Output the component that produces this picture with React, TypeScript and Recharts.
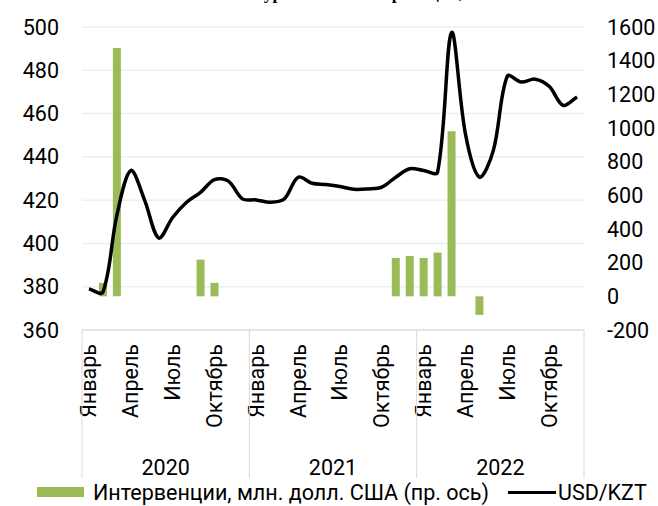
import React from 'react';
import { ComposedChart, Bar, Line, XAxis, YAxis, CartesianGrid, Legend, Customized } from 'recharts';

const years = ['2020', '2021', '2022'];
const monthNames = ['Январь', 'Февраль', 'Март', 'Апрель', 'Май', 'Июнь', 'Июль', 'Август', 'Сентябрь', 'Октябрь', 'Ноябрь', 'Декабрь'];
const labeledMonths = ['Январь', 'Апрель', 'Июль', 'Октябрь'];

// USD/KZT, monthly (left axis)
const usdKzt = [
  379, 377.5, 413, 433.7, 419.8, 402.5, 412, 419, 423.6, 429.5, 428.8, 420.6,
  420.1, 419, 420.5, 430.6, 427.8, 427.2, 426.3, 425, 425.2, 426, 430.6, 434.5,
  433.7, 432.9, 497.5, 450.5, 430.6, 443, 477.3, 474.6, 475.9, 472.6, 463.8, 467.7,
];

// Interventions, mln USD (right axis)
const interventions = [
  null, 80, 1475, null, null, null, null, null, 218, 80, null, null,
  null, null, null, null, null, null, null, null, null, null, 228, 240,
  228, 260, 980, null, -110, null, null, null, null, null, null, null,
];

const leftTicks = [360, 380, 400, 420, 440, 460, 480, 500];
const rightTicks = [-200, 0, 200, 400, 600, 800, 1000, 1200, 1400, 1600];

const barName = 'Интервенции, млн. долл. США (пр. ось)';
const lineName = 'USD/KZT';
const titleText = 'Обменный курс тенге и интервенции, 2020-2022';

const data = years.flatMap((y, yi) =>
  monthNames.map((m, mi) => ({
    key: `${y}-${mi}`,
    year: y,
    month: m,
    usd: usdKzt[yi * 12 + mi],
    intv: interventions[yi * 12 + mi],
  }))
);

const FONT = 'Roboto, "Liberation Sans", sans-serif';
const FS = 21.5;
const W = 658;
const H = 506;
const PLOT_LEFT = 82;
const PLOT_RIGHT = 584;
const BAND = (PLOT_RIGHT - PLOT_LEFT) / data.length;
const SEP = '#d9d9d9';

// Smoothed line with chord-weighted tangents (limits overshoot next to big jumps)
const smoothCurve = (context: any) => {
  let pts: number[][] = [];
  return {
    areaStart() {},
    areaEnd() {},
    lineStart() {
      pts = [];
    },
    point(x: number, y: number) {
      pts.push([+x, +y]);
    },
    lineEnd() {
      const n = pts.length;
      if (!n) return;
      const dist = (a: number[], b: number[]) => Math.hypot(b[0] - a[0], b[1] - a[1]);
      const outC: number[][] = [];
      const inC: number[][] = [];
      for (let i = 0; i < n; i++) {
        const p0 = pts[Math.max(i - 1, 0)];
        const p1 = pts[i];
        const p2 = pts[Math.min(i + 1, n - 1)];
        const tx = p2[0] - p0[0];
        const ty = p2[1] - p0[1];
        const d01 = dist(p0, p1);
        const d12 = dist(p1, p2);
        const s = d01 + d12 || 1;
        const k = 1 / 3;
        outC.push([p1[0] + tx * (d12 / s) * k, p1[1] + ty * (d12 / s) * k]);
        inC.push([p1[0] - tx * (d01 / s) * k, p1[1] - ty * (d01 / s) * k]);
      }
      context.moveTo(pts[0][0], pts[0][1]);
      for (let i = 0; i < n - 1; i++) {
        context.bezierCurveTo(outC[i][0], outC[i][1], inC[i + 1][0], inC[i + 1][1], pts[i + 1][0], pts[i + 1][1]);
      }
    },
  };
};

const CategoryTick = (props: any) => {
  const { x, y, payload } = props;
  const i = data.findIndex((d) => d.key === payload.value);
  if (i < 0) return null;
  const d = data[i];
  const els: any[] = [];
  if (labeledMonths.includes(d.month)) {
    els.push(
      <text
        key="m"
        transform={`translate(${x},${y + 14}) rotate(-90)`}
        textAnchor="end"
        dominantBaseline="central"
        fontFamily={FONT}
        fontSize={FS}
        fill="#000"
      >
        {d.month}
      </text>
    );
  }
  const mi = monthNames.indexOf(d.month);
  if (mi === 0) {
    els.push(<line key="s" x1={x - BAND / 2} x2={x - BAND / 2} y1={y} y2={y + 148} stroke={SEP} strokeWidth={1} />);
    els.push(
      <text key="y" x={x - BAND / 2 + 6 * BAND} y={y + 137} textAnchor="middle" dominantBaseline="central" fontFamily={FONT} fontSize={FS} fill="#000">
        {d.year}
      </text>
    );
  }
  if (i === data.length - 1) {
    els.push(<line key="e" x1={x + BAND / 2} x2={x + BAND / 2} y1={y} y2={y + 148} stroke={SEP} strokeWidth={1} />);
  }
  return <g>{els}</g>;
};

const LegendContent = () => (
  <div
    style={{
      display: 'flex',
      alignItems: 'center',
      height: 28,
      paddingLeft: 37,
      fontFamily: FONT,
      fontSize: FS,
      color: '#000',
      whiteSpace: 'nowrap',
    }}
  >
    <span style={{ display: 'inline-block', width: 47, height: 10, background: '#9bbb59', marginRight: 9 }} />
    <span>{barName}</span>
    <span style={{ display: 'inline-block', width: 48, height: 3, background: '#000', marginLeft: 19, marginRight: 2 }} />
    <span>{lineName}</span>
  </div>
);

const Title = () => (
  <text x={164} y={-1} fontFamily='"Liberation Serif", serif' fontWeight="bold" fontSize={17.5} fill="#000">
    {titleText}
  </text>
);

export default function App() {
  return (
    <div style={{ position: 'absolute', left: 0, top: 0, width: W, height: H, background: '#fff' }}>
      <ComposedChart width={W} height={H} data={data} margin={{ top: 27, right: 0, bottom: 0, left: 0 }}>
        <CartesianGrid yAxisId="left" vertical={false} stroke="#efefef" strokeWidth={1.5} />
        <XAxis
          dataKey="key"
          interval={0}
          tickLine={false}
          tickSize={0}
          tickMargin={0}
          height={148}
          axisLine={{ stroke: SEP, strokeWidth: 1 }}
          tick={<CategoryTick />}
        />
        <YAxis
          yAxisId="left"
          orientation="left"
          width={82}
          domain={[360, 500]}
          ticks={leftTicks}
          axisLine={false}
          tickLine={false}
          tickSize={0}
          tickMargin={23}
          tick={{ fontFamily: FONT, fontSize: FS, fill: '#000' }}
        />
        <YAxis
          yAxisId="right"
          orientation="right"
          width={74}
          domain={[-200, 1600]}
          ticks={rightTicks}
          axisLine={false}
          tickLine={false}
          tickSize={0}
          tickMargin={23}
          tick={{ fontFamily: FONT, fontSize: FS, fill: '#000', textAnchor: 'start' }}
        />
        <Bar yAxisId="right" dataKey="intv" name={barName} fill="#9bbb59" barSize={8} isAnimationActive={false} />
        <Line
          yAxisId="left"
          dataKey="usd"
          name={lineName}
          type={smoothCurve as any}
          stroke="#000"
          strokeWidth={3.5}
          dot={false}
          activeDot={false}
          isAnimationActive={false}
        />
        <Legend verticalAlign="bottom" content={<LegendContent />} wrapperStyle={{ left: 0, width: W, height: 28 }} />
        <Customized component={<Title />} />
      </ComposedChart>
    </div>
  );
}
